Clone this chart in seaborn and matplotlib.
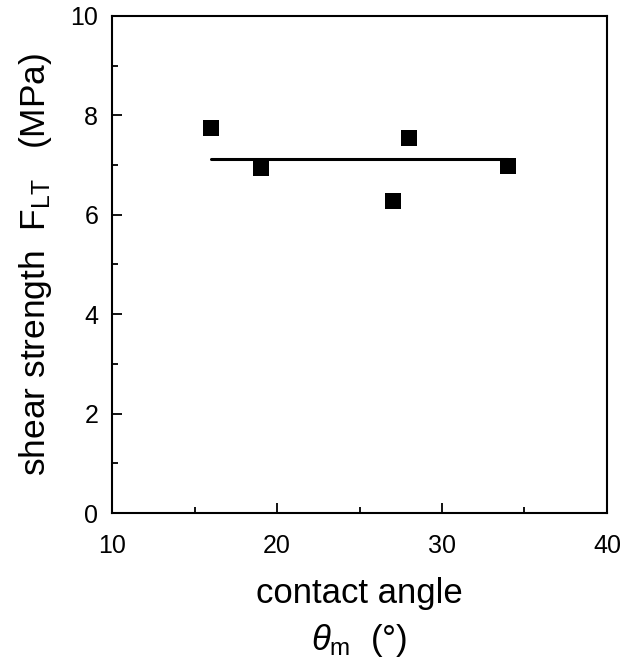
import numpy as np
import pandas as pd
import matplotlib
matplotlib.use("Agg")
import matplotlib.pyplot as plt
from matplotlib.ticker import MultipleLocator
import seaborn as sns

# --- data ---
contact_angle = [16, 19, 27, 28, 34]
shear_strength = [7.75, 6.95, 6.28, 7.55, 6.98]

# horizontal fit line (mean level)
fit_x = [16, 34]
fit_y = [7.13, 7.13]

x_ticks = [10, 20, 30, 40]
y_ticks = [0, 2, 4, 6, 8, 10]

sns.set_style("white")
plt.rcParams['font.family'] = ['Liberation Sans', 'DejaVu Sans']
plt.rcParams['mathtext.fontset'] = 'custom'
plt.rcParams['mathtext.rm'] = 'Liberation Sans'
plt.rcParams['mathtext.it'] = 'Liberation Sans:italic'
plt.rcParams['text.color'] = 'black'
plt.rcParams['axes.labelcolor'] = 'black'
plt.rcParams['xtick.color'] = 'black'
plt.rcParams['ytick.color'] = 'black'

df = pd.DataFrame({"angle": contact_angle, "strength": shear_strength})
fit = pd.DataFrame({"angle": fit_x, "strength": fit_y})

fig = plt.figure(figsize=(6.34, 6.62), dpi=100)
ax = fig.add_axes([0.1767, 0.225, 0.7807, 0.751])

sns.lineplot(data=fit, x="angle", y="strength", ax=ax, color="black", linewidth=2.2)
sns.scatterplot(data=df, x="angle", y="strength", ax=ax, marker="s", s=135,
                color="black", edgecolor="black", linewidth=0, zorder=3)

ax.set_xlim(10, 40)
ax.set_ylim(0, 10)
ax.set_xticks(x_ticks)
ax.set_yticks(y_ticks)
ax.xaxis.set_minor_locator(MultipleLocator(5))
ax.yaxis.set_minor_locator(MultipleLocator(1))

ax.tick_params(which="both", direction="in", bottom=True, left=True,
               top=False, right=False, labelsize=18, width=1.3, colors="black")
ax.tick_params(which="major", length=7)
ax.tick_params(which="minor", length=4.5)
ax.tick_params(axis="x", pad=15)
ax.tick_params(axis="y", pad=10)

for s in ax.spines.values():
    s.set_visible(True)
    s.set_linewidth(1.5)
    s.set_color("black")

ax.set_xlabel("contact angle\n$\\theta_{\\mathrm{m}}$  (°)", fontsize=25,
              labelpad=14, linespacing=1.4)
ax.set_ylabel("shear strength  $\\mathrm{F}_{\\mathrm{LT}}$   (MPa)", fontsize=25.5,
              labelpad=12)

fig.savefig("out.png", dpi=100)
